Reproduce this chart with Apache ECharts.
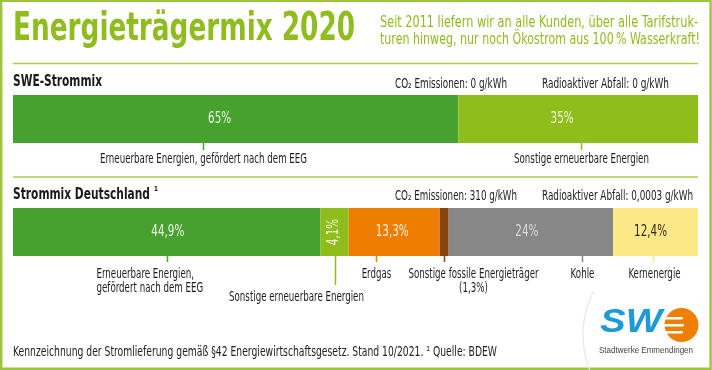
<!DOCTYPE html>
<html><head><meta charset="utf-8">
<script src="https://cdn.jsdelivr.net/npm/echarts@6/dist/echarts.min.js"></script>
<style>html,body{margin:0;padding:0;background:#fff}#c{width:712px;height:370px}</style>
</head><body><div id="c"></div>
<script>
// ---------- data ----------
const titleText = 'Energieträgermix 2020';
const subtitleLines = ['Seit 2011 liefern wir an alle Kunden, über alle Tarifstruk-', 'turen hinweg, nur noch Ökostrom aus 100\u202F% Wasserkraft!'];
const sweHeading = 'SWE-Strommix';
const deHeading = 'Strommix Deutschland';
const sweCO2 = 'CO₂ Emissionen: 0 g/kWh';
const sweRad = 'Radioaktiver Abfall: 0 g/kWh';
const deCO2 = 'CO₂ Emissionen: 310 g/kWh';
const deRad = 'Radioaktiver Abfall: 0,0003 g/kWh';
const footerText = 'Kennzeichnung der Stromlieferung gemäß §42 Energiewirtschaftsgesetz. Stand 10/2021. ¹ Quelle: BDEW';
const sweCategories = ['Erneuerbare Energien, gefördert nach dem EEG', 'Sonstige erneuerbare Energien'];
const sweValues = [65, 35];
const deCategories = ['Erneuerbare Energien,\ngefördert nach dem EEG', 'Sonstige erneuerbare Energien', 'Erdgas', 'Sonstige fossile Energieträger\n(1,3%)', 'Kohle', 'Kernenergie'];
const deValues = [44.9, 4.1, 13.3, 1.3, 24, 12.4];

// ---------- styles ----------
const FONT = "'Liberation Sans Narrow','DejaVu Sans Condensed','Liberation Sans',sans-serif";
const LIME = '#8fbc1f';
const FRAME = '#9cc53c';
const sweColors = ['#47a12f', '#8fbd1b'];
const deColors = ['#47a12f', '#8fbd1b', '#ee7e00', '#86440d', '#878787', '#fde887'];
const sweLabelStyle = [{dx: -16, color: '#eaf4e4'}, {dx: -16, color: '#f1f7dc'}];
const deLabelStyle = [{dx: 1, color: '#eef6ea'}, {color: '#f3f9e2', rotate: 90}, {dx: -2, color: '#fdf0e0'}, {show: false}, {dx: -4, color: '#dcdcdc'}, {dx: -5, color: '#2a2a2a'}];
const sweCallout = [{frac: 0.427, len: 7, dx: 0, dy: 16}, {frac: 0.51, len: 7, dx: 0, dy: 16}];
const deCallout = [
  {frac: 0.5, len: 6, dx: -71, dy: 25, align: 'left'},
  {frac: 0.5, len: 29, dx: -39, dy: 41},
  {frac: 0.3, len: 6, dx: 0, dy: 18},
  {frac: 0.5, len: 6, dx: 29, dy: 25},
  {frac: 0.81, len: 6, dx: 0, dy: 18},
  {frac: 0.47, len: 6, dx: 1, dy: 18}
];

const mctx = document.createElement('canvas').getContext('2d');
function measure(text, size, weight, family) {
  mctx.font = (weight || 'normal') + ' ' + size + 'px ' + (family || FONT);
  return Math.max.apply(null, text.split('\n').map(t => mctx.measureText(t).width));
}
function fit(text, size, weight, width, family) { return width / measure(text, size, weight, family); }
const BODY = 14;
const bodyScale = fit(sweCategories[0], BODY, 'normal', 207);
const LBL = 15;
const labelScale = fit('44,9%', LBL, 'normal', 33);

function T(text, x, y, o) {
  o = o || {};
  const size = o.size || BODY, weight = o.weight || 'normal', fam = o.family || FONT;
  const sx = o.width ? fit(text, size, weight, o.width, fam) : (o.scale || 1);
  return {type: 'text', x: x, y: y, scaleX: sx, silent: true, z: 10,
    style: {text: text, fill: o.color || '#222', fontSize: size, fontWeight: weight, fontFamily: fam,
      fontStyle: o.italic ? 'italic' : 'normal',
      align: o.align || 'left', verticalAlign: 'middle', lineHeight: o.lh || size}};
}

const fmt = v => String(v).replace('.', ',') + '%';

function barSeries(values, colors, stack, gi) {
  return values.map((v, i) => ({type: 'bar', stack: stack, xAxisIndex: gi, yAxisIndex: gi, barWidth: '100%', data: [v],
      itemStyle: {color: colors[i]}, silent: true, label: {show: false}}));
}

function calloutSeries(values, colors, styles, labelStyles, names, gi) {
  const data = []; let acc = 0;
  values.forEach((v, i) => { data.push([acc, acc + v, 0, i, v]); acc += v; });
  return {type: 'custom', xAxisIndex: gi, yAxisIndex: gi, silent: true, z: 5, data: data,
    encode: {x: [0, 1], y: 2},
    renderItem: function (params, api) {
      const i = api.value(3);
      const s = styles[i], ls = labelStyles[i];
      const x0 = api.coord([api.value(0), 0])[0];
      const x1 = api.coord([api.value(1), 0])[0];
      const yc = api.coord([0, 0])[1];
      const band = api.size([0, 1])[1];
      const yb = yc + band / 2;
      const tx = Math.round(x0 + (x1 - x0) * s.frac) + 0.5;
      const children = [
        {type: 'line', shape: {x1: tx, y1: yb, x2: tx, y2: yb + s.len}, style: {stroke: colors[i], lineWidth: 1.5}},
        {type: 'text', x: tx + s.dx, y: yb + s.dy, scaleX: bodyScale,
          style: {text: names[i], fill: '#1e1e1e', fontSize: BODY, fontFamily: FONT, align: s.align || 'center', verticalAlign: 'middle', lineHeight: 14}}
      ];
      if (ls.show !== false) {
        const rot = ls.rotate ? ls.rotate * Math.PI / 180 : 0;
        children.push({type: 'text', x: (x0 + x1) / 2 + (ls.dx || 0), y: yc, rotation: rot,
          scaleX: labelScale,
          style: {text: fmt(api.value(4)), fill: ls.color, fontSize: LBL, fontFamily: FONT, align: 'center', verticalAlign: 'middle'}});
      }
      return {type: 'group', children: children};
    }};
}

const chart = echarts.init(document.getElementById('c'), null, {renderer: 'canvas'});
chart.setOption({
  animation: false,
  backgroundColor: '#fff',
  grid: [
    {left: 13, right: 14, top: 95, height: 48},
    {left: 13, right: 14, top: 208, height: 48}
  ],
  xAxis: [
    {gridIndex: 0, type: 'value', min: 0, max: 100, show: false},
    {gridIndex: 1, type: 'value', min: 0, max: 100, show: false}
  ],
  yAxis: [
    {gridIndex: 0, type: 'category', data: ['SWE'], show: false},
    {gridIndex: 1, type: 'category', data: ['DE'], show: false}
  ],
  series: [].concat(
    barSeries(sweValues, sweColors, 'swe', 0),
    barSeries(deValues, deColors, 'de', 1),
    [calloutSeries(sweValues, sweColors, sweCallout, sweLabelStyle, sweCategories, 0),
     calloutSeries(deValues, deColors, deCallout, deLabelStyle, deCategories, 1)]
  ),
  graphic: [
    {type: 'rect', shape: {x: 1.2, y: 0.8, width: 709.4, height: 368}, style: {fill: 'none', stroke: FRAME, lineWidth: 2.4}, silent: true},
    {type: 'line', shape: {x1: 13, y1: 63.5, x2: 698, y2: 63.5}, style: {stroke: '#a6cd4c', lineWidth: 1.5}, silent: true},
    {type: 'line', shape: {x1: 13, y1: 177, x2: 698, y2: 177}, style: {stroke: '#a6cd4c', lineWidth: 1.5}, silent: true},
    T(titleText, 13, 30, {size: 39, weight: 'bold', color: LIME, width: 342}),
    T(subtitleLines[0], 380, 23, {size: 15, color: LIME, width: 318}),
    T(subtitleLines[1], 380, 40, {size: 15, color: LIME, width: 320}),
    T(sweHeading, 13, 82, {size: 15, weight: 'bold', width: 89, color: '#1a1a1a'}),
    T(sweCO2, 507, 84, {size: 13.5, align: 'right', width: 112}),
    T(sweRad, 542, 84, {size: 13.5, width: 127}),
    T(deHeading, 13, 195, {size: 15, weight: 'bold', width: 137, color: '#1a1a1a'}),
    T('¹', 154, 192, {size: 13, weight: 'bold', color: '#1a1a1a', scale: 0.8}),
    T(deCO2, 517, 196, {size: 13.5, align: 'right', width: 122}),
    T(deRad, 542, 196, {size: 13.5, width: 151}),
    T(footerText, 13, 352, {size: 14, width: 484}),
    // logo
    {type: 'arc', shape: {cx: 680, cy: 335, r: 97, startAngle: Math.PI * 0.6, endAngle: Math.PI * 1.15}, style: {stroke: '#e9e9e9', lineWidth: 1.2, fill: 'none'}, silent: true},
    {type: 'circle', shape: {cx: 681.5, cy: 325, r: 17}, style: {fill: '#ee7f00'}, silent: true},
    {type: 'rect', shape: {x: 660, y: 317, width: 23, height: 2.6, r: 1.3}, style: {fill: '#fff'}, silent: true},
    {type: 'rect', shape: {x: 660, y: 324, width: 24, height: 2.6, r: 1.3}, style: {fill: '#fff'}, silent: true},
    {type: 'rect', shape: {x: 660, y: 331, width: 23, height: 2.6, r: 1.3}, style: {fill: '#fff'}, silent: true},
    T('SW', 600, 323, {size: 33, weight: 'bold', italic: true, color: '#1e9bd7', width: 62, family: "'Liberation Sans',sans-serif"}),
    T('Stadtwerke Emmendingen', 599, 351, {size: 9, color: '#444', width: 94, family: "'Liberation Sans',sans-serif"})
  ]
});
</script>
</body></html>
